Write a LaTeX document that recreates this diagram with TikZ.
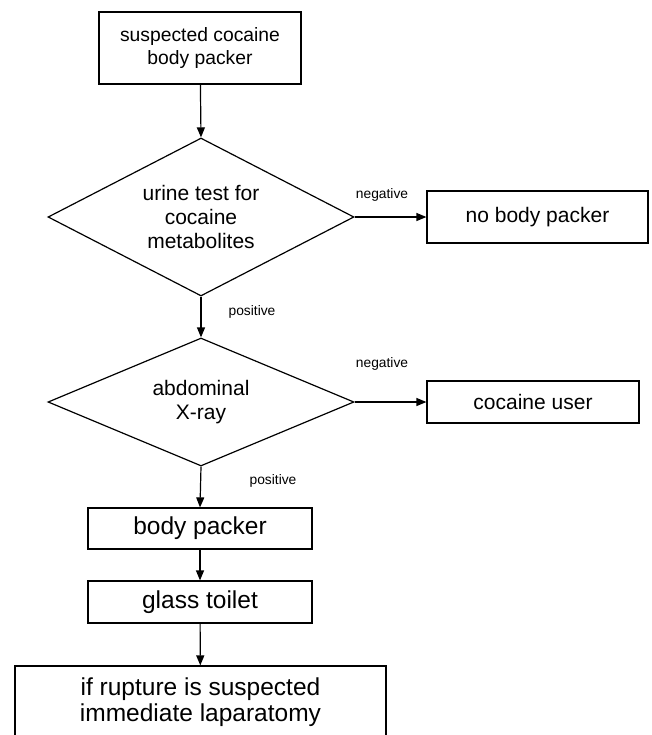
\documentclass[tikz,border=0pt]{standalone}
\usepackage{fontspec}
\setmainfont{Liberation Sans}
\usetikzlibrary{shapes.geometric,arrows.meta}

\begin{document}
\begin{tikzpicture}[x=0.5pt,y=-0.5pt,line width=0.6pt,
	box/.style={draw,rectangle,inner sep=0pt,align=center},
	test/.style={draw,diamond,inner sep=0pt,align=center,font=\fontsize{10.5}{12}\selectfont},
	outcome/.style={font=\fontsize{6.9}{8}\selectfont},
	flow/.style={-{Triangle[length=5pt,width=4pt]}}]
%
	\useasboundingbox (0,0) rectangle (652,735);
%
	\node[box,minimum width=101pt,minimum height=36pt,font=\fontsize{9.65}{11.5}\selectfont] (suspect) at (200,48) {suspected cocaine\\body packer};
	\node[test,aspect=1.94,minimum width=153pt,minimum height=79pt] (urine) at (201,217) {urine test for\\cocaine\\metabolites};
	\node[box,minimum width=110.5pt,minimum height=26pt,font=\fontsize{10.5}{12}\selectfont] (nopacker) at (537.5,217) {no body packer};
	\node[test,aspect=2.39,minimum width=153pt,minimum height=64pt] (xray) at (201,402) {abdominal\\X-ray};
	\node[box,minimum width=106pt,minimum height=21pt,font=\fontsize{10.5}{12}\selectfont] (user) at (533,402) {cocaine user};
	\node[box,minimum width=112pt,minimum height=20.5pt,font=\fontsize{12.25}{13.3}\selectfont] (packer) at (200,528.5) {body packer};
	\node[box,minimum width=112pt,minimum height=21pt,font=\fontsize{12.25}{13.3}\selectfont] (toilet) at (200,602) {glass toilet};
	\node[box,minimum width=185.5pt,minimum height=36pt,font=\fontsize{12.25}{13.3}\selectfont] (surgery) at (200.5,702) {if rupture is suspected\\immediate laparatomy};
%
	\draw[flow] (suspect) -- (urine.north);
	\draw[flow] (urine.east) -- (nopacker.west);
	\draw[flow] (urine.south) -- (xray.north);
	\draw[flow] (xray.east) -- (user.west);
	\draw[flow] (xray.south) -- (packer.north);
	\draw[flow] (packer) -- (toilet);
	\draw[flow] (toilet) -- (surgery);
%
	\node[outcome] (neg1) at (382,195) {negative};
	\node[outcome] (pos1) at (252,312) {positive};
	\node[outcome] (neg2) at (382,364) {negative};
	\node[outcome] (pos2) at (273,481) {positive};
\end{tikzpicture}
\end{document}
